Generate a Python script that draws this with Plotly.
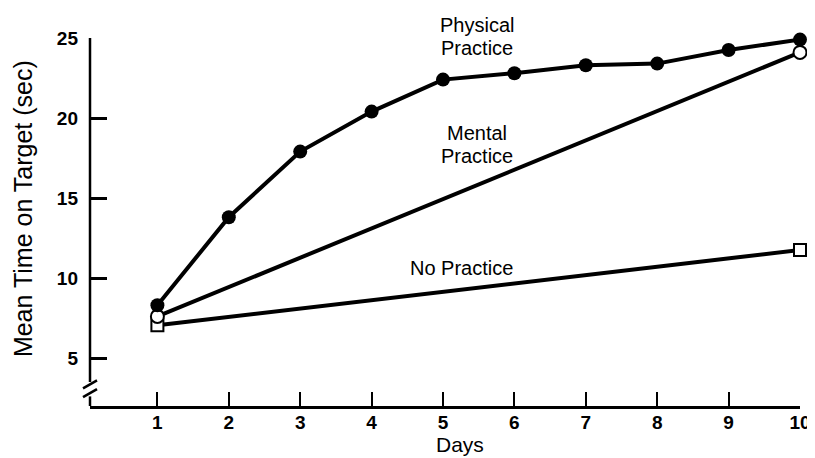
import plotly.graph_objects as go

days = [1, 2, 3, 4, 5, 6, 7, 8, 9, 10]
physical = [8.3, 13.8, 17.9, 20.4, 22.4, 22.8, 23.3, 23.4, 24.25, 24.9]
mental_days = [1, 10]
mental = [7.6, 24.1]
none_days = [1, 10]
no_practice = [7.05, 11.75]
y_ticks = [5, 10, 15, 20, 25]

FONT = "Liberation Sans, Arial, sans-serif"
W = 815
H = 458
OFF = 8  # page body margin
fig = go.Figure()

fig.add_trace(go.Scatter(
    x=none_days, y=no_practice, mode="lines+markers",
    line=dict(color="black", width=4),
    marker=dict(symbol="square", size=12, color="white", line=dict(color="black", width=2)),
    cliponaxis=False, showlegend=False, name="No Practice"))
fig.add_trace(go.Scatter(
    x=mental_days, y=mental, mode="lines+markers",
    line=dict(color="black", width=4),
    marker=dict(symbol="circle", size=13, color="white", line=dict(color="black", width=2)),
    cliponaxis=False, showlegend=False, name="Mental Practice"))
fig.add_trace(go.Scatter(
    x=days, y=physical, mode="lines+markers",
    line=dict(color="black", width=4),
    marker=dict(symbol="circle", size=14, color="black"),
    cliponaxis=False, showlegend=False, name="Physical Practice"))

# y axis drawn as shapes (with a break)
ax = dict(type="line", xref="paper", line=dict(color="black", width=2.5))
fig.add_shape(**ax, x0=0, x1=0, yref="y", y0=25, y1=3.5)
fig.add_shape(**ax, x0=0, x1=0, yref="y", y0=2.6, y1=2.0)
for yb in [3.35, 2.8]:
    fig.add_shape(type="line", xref="paper", yref="y",
                  xsizemode="pixel", xanchor=0, ysizemode="pixel", yanchor=yb,
                  x0=-7, x1=7, y0=-4, y1=4, line=dict(color="black", width=2.5))

# label lines: (text, day position, value position)
labels = [
    ("Physical", 5.47, 25.8),
    ("Practice", 5.47, 24.4),
    ("Mental", 5.47, 19.06),
    ("Practice", 5.47, 17.6),
    ("No Practice", 5.26, 10.6),
]
for t, x, y in labels:
    fig.add_annotation(x=x, y=(y - 2) / 23, yref="paper", text=t, showarrow=False,
                       xanchor="center", yanchor="middle",
                       font=dict(family=FONT, size=20, color="black"))

fig.add_annotation(x=0, xref="paper", xshift=-67, y=0.535, yref="paper",
                   xanchor="center", yanchor="middle",
                   text="Mean Time on Target (sec)", textangle=-90, showarrow=False,
                   font=dict(family=FONT, size=25, color="black"))

fig.add_annotation(x=5.24, y=0, yref="paper", yshift=-38, borderpad=0,
                   xanchor="center", yanchor="middle",
                   text="Days", showarrow=False,
                   font=dict(family=FONT, size=21, color="black"))

fig.update_layout(
    width=W, height=H,
    margin=dict(l=90 - OFF, r=9 + OFF, t=38 - OFF, b=52 + OFF),
    plot_bgcolor="white", paper_bgcolor="white",
    font=dict(family=FONT, color="black"),
    xaxis=dict(range=[0.056, 10], tickvals=days, ticks="inside", ticklen=14,
               tickwidth=2, tickcolor="black", showline=True, linecolor="black",
               linewidth=2.5, showgrid=False, zeroline=False, ticklabelstandoff=-3,
               tickfont=dict(size=19, family=FONT, weight="bold")),
    yaxis=dict(range=[2, 25], tickvals=y_ticks, ticks="inside", ticklen=17,
               tickwidth=2.5, tickcolor="black", showline=False, showgrid=False,
               zeroline=False, ticklabelstandoff=11,
               tickfont=dict(size=19, family=FONT, weight="bold")),
)

fig.write_html("out.html")
